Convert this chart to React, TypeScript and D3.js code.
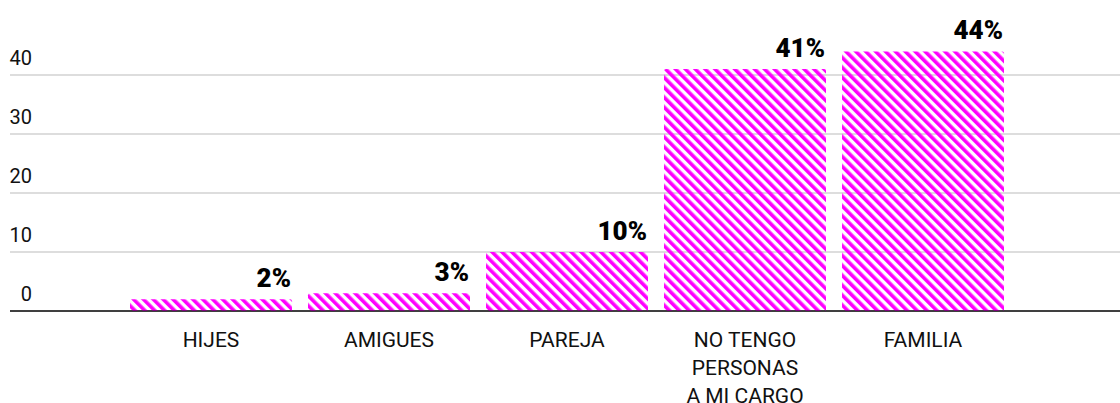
import React from "react";
import * as d3 from "d3";

const categories = ["HIJES", "AMIGUES", "PAREJA", "NO TENGO PERSONAS A MI CARGO", "FAMILIA"];
const categoryLines = [["HIJES"], ["AMIGUES"], ["PAREJA"], ["NO TENGO", "PERSONAS", "A MI CARGO"], ["FAMILIA"]];
const values = [2, 3, 10, 41, 44];
const yTicks = [0, 10, 20, 30, 40];

const W = 1120;
const H = 403;

export default function App() {
  const x = d3.scaleBand<string>().domain(categories).range([130, 1004]).paddingInner(0.09).paddingOuter(0);
  const y = d3.scaleLinear().domain([0, 50]).range([311, 16]);
  const r = 2;
  const barPath = (x0: number, y0: number, w: number, y1: number) => {
    const rr = Math.min(r, (y1 - y0) / 2);
    return `M${x0},${y1}V${y0 + rr}Q${x0},${y0} ${x0 + rr},${y0}H${x0 + w - rr}Q${x0 + w},${y0} ${x0 + w},${y0 + rr}V${y1}Z`;
  };
  return (
    <svg width={W} height={H} style={{ position: "absolute", left: 0, top: 0 }}>
      <defs>
        <pattern id="stripes" patternUnits="userSpaceOnUse" width={7} height={7} patternTransform="rotate(-45)">
          <rect x={0} y={0} width={3.6} height={7} fill="#ff00ff" />
        </pattern>
      </defs>
      <rect width={W} height={H} fill="#fff" />
      {yTicks.map((t) => (
        <g key={t}>
          <line x1={10} x2={W} y1={y(t)} y2={y(t)} stroke={t === 0 ? "#000" : "#bbb"} strokeWidth={1} />
          <text x={32} y={y(t) - 10} textAnchor="end" fontFamily="Roboto" fontSize={20} fill="#111">
            {t}
          </text>
        </g>
      ))}
      {categories.map((c, i) => {
        const bx = x(c)!;
        const bw = x.bandwidth();
        const top = y(values[i]);
        return (
          <g key={c}>
            <path d={barPath(bx, top, bw, y(0))} fill="url(#stripes)" />
            <text x={bx + bw - 1} y={top - 12} textAnchor="end" fontFamily="Roboto" fontWeight={900} fontSize={26} fill="#000">
              {values[i]}%
            </text>
            <text textAnchor="middle" fontFamily="Roboto" fontSize={21} fill="#111">
              {categoryLines[i].map((l, j) => (
                <tspan key={j} x={bx + bw / 2} y={346.5 + j * 28}>
                  {l}
                </tspan>
              ))}
            </text>
          </g>
        );
      })}
      <line x1={10} x2={W} y1={y(0)} y2={y(0)} stroke="#000" strokeWidth={1} />
    </svg>
  );
}
